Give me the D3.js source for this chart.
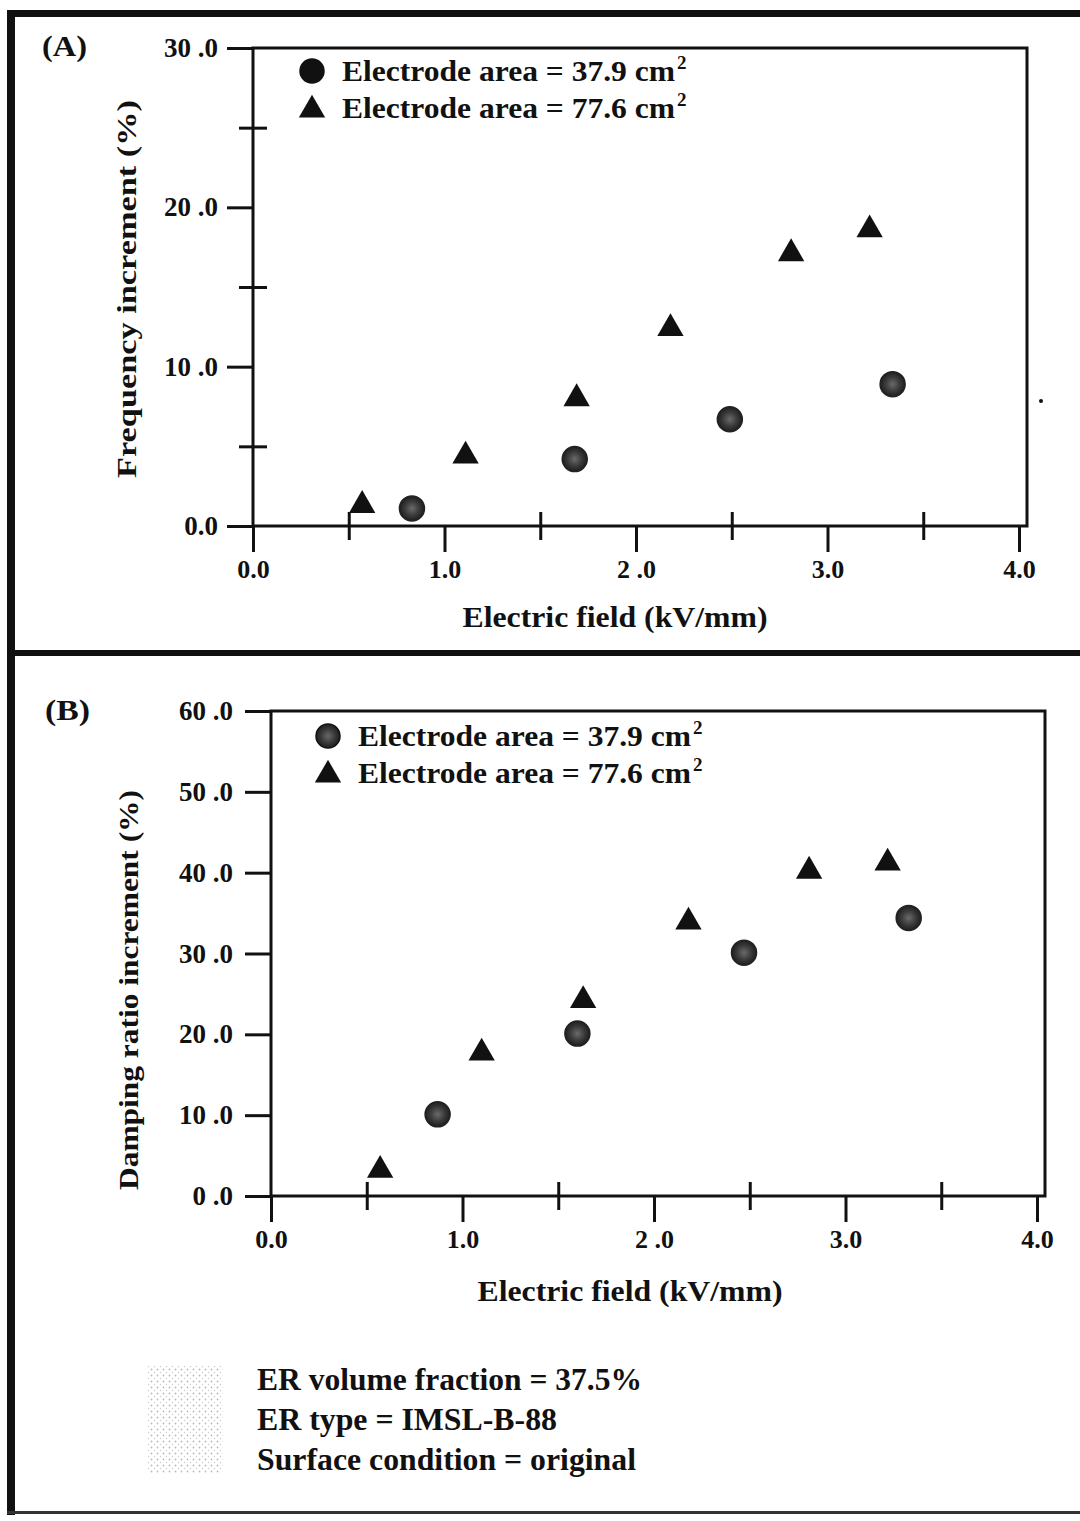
<!DOCTYPE html>
<html>
<head>
<meta charset="utf-8">
<script src="https://cdn.jsdelivr.net/npm/d3@7"></script>
<style>
  html, body { margin: 0; padding: 0; background: #fff; }
  svg { display: block; }
  text { font-family: "Liberation Serif", "Times New Roman", serif; font-weight: bold; fill: #111; }
</style>
</head>
<body>
<svg id="chart" width="1080" height="1521"></svg>
<script>
// ---------------- DATA ----------------
const seriesNames = ["Electrode area = 37.9 cm", "Electrode area = 77.6 cm"];

// Panel A: frequency increment (%)
const freqFieldA = [0.83, 1.68, 2.49, 3.34];          // electrode area 37.9 cm2
const freqValueA = [1.1, 4.2, 6.7, 8.9];
const freqFieldB = [0.57, 1.11, 1.69, 2.18, 2.81, 3.22]; // electrode area 77.6 cm2
const freqValueB = [1.3, 4.4, 8.0, 12.4, 17.1, 18.6];

// Panel B: damping ratio increment (%)
const dampFieldA = [0.87, 1.60, 2.47, 3.33];
const dampValueA = [10.1, 20.1, 30.1, 34.4];
const dampFieldB = [0.57, 1.10, 1.63, 2.18, 2.81, 3.22];
const dampValueB = [3.2, 17.7, 24.2, 33.9, 40.2, 41.2];

const xTicks = [0, 1, 2, 3, 4];
const xTickLabels = ["0.0", "1.0", "2 .0", "3.0", "4.0"];
const xMinorTicks = [0.5, 1.5, 2.5, 3.5];

const freqTicks = [0, 10, 20, 30];
const freqTickLabels = ["0.0", "10 .0", "20 .0", "30 .0"];
const freqMinorTicks = [5, 15, 25];

const dampTicks = [0, 10, 20, 30, 40, 50, 60];
const dampTickLabels = ["0 .0", "10 .0", "20 .0", "30 .0", "40 .0", "50 .0", "60 .0"];
const dampMinorTicks = [];

const infoLines = ["ER volume fraction = 37.5%", "ER type = IMSL-B-88", "Surface condition = original"];

// ---------------- DRAWING ----------------
const svg = d3.select("#chart");
const INK = "#111";

// page frame
svg.append("rect").attr("x", 7).attr("y", 10).attr("width", 1073).attr("height", 7).attr("fill", INK);
svg.append("rect").attr("x", 7).attr("y", 10).attr("width", 8).attr("height", 1505).attr("fill", INK);
svg.append("rect").attr("x", 7).attr("y", 650).attr("width", 1073).attr("height", 6).attr("fill", INK);
svg.append("rect").attr("x", 7).attr("y", 1511).attr("width", 1073).attr("height", 3).attr("fill", "#333");
// small speck at right side
svg.append("circle").attr("cx", 1041).attr("cy", 401).attr("r", 2).attr("fill", INK);

const triPath = d3.symbol().type(d3.symbolTriangle).size(300)();

// stipple gradient for dots
const defs = svg.append("defs");
const grad = defs.append("radialGradient").attr("id", "stipple");
grad.append("stop").attr("offset", "0%").attr("stop-color", "#6a6a6a");
grad.append("stop").attr("offset", "55%").attr("stop-color", "#3c3c3c");
grad.append("stop").attr("offset", "100%").attr("stop-color", "#1e1e1e");

const dots = defs.append("pattern").attr("id", "halftone")
  .attr("width", 6).attr("height", 6).attr("patternUnits", "userSpaceOnUse");
dots.append("circle").attr("cx", 1.5).attr("cy", 1.5).attr("r", 0.9).attr("fill", "#9a9a9a");
dots.append("circle").attr("cx", 4.5).attr("cy", 4.5).attr("r", 0.7).attr("fill", "#b0b0b0");

function drawPanel(cfg) {
  const g = svg.append("g");
  const x = d3.scaleLinear().domain([0, 4]).range([cfg.x0, cfg.x4]);
  const y = d3.scaleLinear().domain([0, cfg.ymax]).range([cfg.yBottom, cfg.yTop]);

  // frame
  g.append("rect")
    .attr("x", cfg.x0).attr("y", cfg.yTop)
    .attr("width", cfg.xRight - cfg.x0).attr("height", cfg.yBottom - cfg.yTop)
    .attr("fill", "none").attr("stroke", INK).attr("stroke-width", 3);

  // x major ticks (outward, below)
  const xAxis = d3.axisBottom(x).tickValues(xTicks).tickSize(26).tickSizeOuter(0)
    .tickPadding(4).tickFormat((d, i) => xTickLabels[i]);
  const gx = g.append("g").attr("transform", `translate(0,${cfg.yBottom})`).call(xAxis);
  gx.select(".domain").remove();
  gx.selectAll(".tick line").attr("stroke", INK).attr("stroke-width", 3);
  gx.selectAll(".tick text").attr("font-size", 26).attr("fill", INK)
    .attr("font-family", "Liberation Serif").attr("font-weight", "bold").attr("dy", "0.85em");

  // x minor ticks (crossing)
  const xMinor = d3.axisBottom(x).tickValues(xMinorTicks).tickSize(28).tickSizeOuter(0).tickFormat("");
  const gxm = g.append("g").attr("transform", `translate(0,${cfg.yBottom - 14})`).call(xMinor);
  gxm.select(".domain").remove();
  gxm.selectAll(".tick line").attr("stroke", INK).attr("stroke-width", 3);

  // y major ticks (outward, left)
  const yAxis = d3.axisLeft(y).tickValues(cfg.yTicks).tickSize(26).tickSizeOuter(0)
    .tickPadding(cfg.yPad).tickFormat((d, i) => cfg.yTickLabels[i]);
  const gy = g.append("g").attr("transform", `translate(${cfg.x0},0)`).call(yAxis);
  gy.select(".domain").remove();
  gy.selectAll(".tick line").attr("stroke", INK).attr("stroke-width", 3);
  gy.selectAll(".tick text").attr("font-size", 27).attr("fill", INK)
    .attr("font-family", "Liberation Serif").attr("font-weight", "bold");

  // y minor ticks (crossing)
  if (cfg.yMinor.length) {
    const yMinor = d3.axisLeft(y).tickValues(cfg.yMinor).tickSize(28).tickSizeOuter(0).tickFormat("");
    const gym = g.append("g").attr("transform", `translate(${cfg.x0 + 14},0)`).call(yMinor);
    gym.select(".domain").remove();
    gym.selectAll(".tick line").attr("stroke", INK).attr("stroke-width", 3);
  }

  // axis titles
  g.append("text").attr("x", cfg.xTitleX).attr("y", cfg.xTitleY)
    .attr("text-anchor", "middle").attr("font-size", 29)
    .attr("textLength", 305).attr("lengthAdjust", "spacingAndGlyphs")
    .text("Electric field (kV/mm)");
  g.append("text")
    .attr("transform", `translate(${cfg.yTitleX},${cfg.yTitleY}) rotate(-90)`)
    .attr("text-anchor", "middle").attr("font-size", 28)
    .attr("textLength", cfg.yTitleLen).attr("lengthAdjust", "spacingAndGlyphs")
    .text(cfg.yTitle);

  // panel label
  g.append("text").attr("x", cfg.labelX).attr("y", cfg.labelY)
    .attr("font-size", 30).attr("font-weight", "normal")
    .attr("textLength", 45).attr("lengthAdjust", "spacingAndGlyphs").text(cfg.label);

  // data: circles
  const circ = cfg.circX.map((v, i) => ({ x: v, y: cfg.circY[i] }));
  g.selectAll("circle.pt").data(circ).join("circle").attr("class", "pt")
    .attr("cx", d => x(d.x)).attr("cy", d => y(d.y)).attr("r", 12.5)
    .attr("fill", "url(#stipple)").attr("stroke", "#222").attr("stroke-width", 1.5);

  // data: triangles
  const tri = cfg.triX.map((v, i) => ({ x: v, y: cfg.triY[i] }));
  g.selectAll("path.pt").data(tri).join("path").attr("class", "pt")
    .attr("d", triPath)
    .attr("transform", d => `translate(${x(d.x)},${y(d.y)})`)
    .attr("fill", INK);

  // legend
  const lg = g.append("g");
  lg.append("circle").attr("cx", cfg.legX).attr("cy", cfg.legY)
    .attr("r", 12).attr("fill", cfg.legendSolid ? INK : "url(#stipple)")
    .attr("stroke", "#111").attr("stroke-width", 1.5);
  lg.append("path").attr("d", triPath)
    .attr("transform", `translate(${cfg.legX},${cfg.legY + cfg.legDy + 2})`).attr("fill", INK);
  seriesNames.forEach((s, i) => {
    const by = cfg.legY + 10 + i * cfg.legDy;
    lg.append("text").attr("x", cfg.legX + 30).attr("y", by)
      .attr("font-size", 30).attr("textLength", 333).attr("lengthAdjust", "spacingAndGlyphs")
      .text(s);
    lg.append("text").attr("x", cfg.legX + 30 + 335).attr("y", by - 12)
      .attr("font-size", 19).text("2");
  });
}

drawPanel({
  x0: 253, x4: 1019, xRight: 1027, yBottom: 526, yTop: 48, ymax: 30,
  yTicks: freqTicks, yTickLabels: freqTickLabels, yMinor: freqMinorTicks, yPad: 9,
  yTitle: "Frequency increment (%)", yTitleX: 136, yTitleY: 289, yTitleLen: 378,
  xTitleX: 615, xTitleY: 627,
  label: "(A)", labelX: 42, labelY: 56,
  circX: freqFieldA, circY: freqValueA, triX: freqFieldB, triY: freqValueB,
  legX: 312, legY: 71, legDy: 37, legendSolid: true
});

drawPanel({
  x0: 271, x4: 1037, xRight: 1045, yBottom: 1196, yTop: 711, ymax: 60,
  yTicks: dampTicks, yTickLabels: dampTickLabels, yMinor: dampMinorTicks, yPad: 12,
  yTitle: "Damping ratio increment (%)", yTitleX: 138, yTitleY: 990, yTitleLen: 400,
  xTitleX: 630, xTitleY: 1301,
  label: "(B)", labelX: 45, labelY: 720,
  circX: dampFieldA, circY: dampValueA, triX: dampFieldB, triY: dampValueB,
  legX: 328, legY: 736, legDy: 37, legendSolid: false
});

// halftone block and info text
svg.append("rect").attr("x", 148).attr("y", 1366).attr("width", 75).attr("height", 108)
  .attr("fill", "url(#halftone)").attr("opacity", 0.7);
const infoWidths = [385, 300, 379];
svg.selectAll("text.info").data(infoLines).join("text").attr("class", "info")
  .attr("x", 257).attr("y", (d, i) => 1390 + i * 40)
  .attr("font-size", 31)
  .attr("textLength", (d, i) => infoWidths[i]).attr("lengthAdjust", "spacingAndGlyphs")
  .text(d => d);
</script>
</body>
</html>
